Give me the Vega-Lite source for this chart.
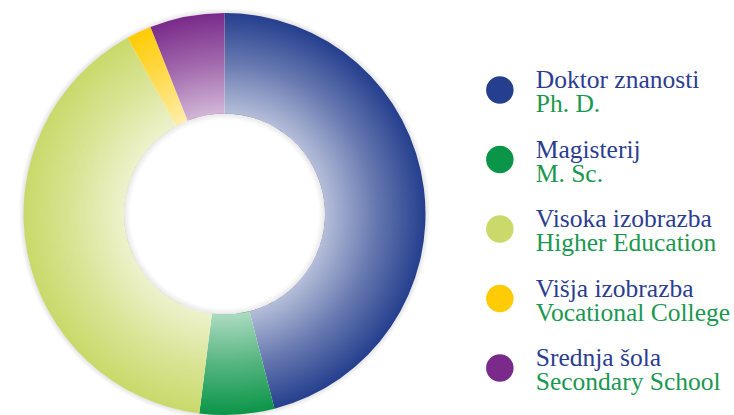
{
  "$schema": "https://vega.github.io/schema/vega-lite/v6.json",
  "padding": {"top": 8, "left": 0, "right": 0, "bottom": 0},
  "background": "white",
  "config": {"view": {"stroke": null}},
  "spacing": 36,
  "datasets": {
    "edu": [
      {"k": 1, "sl": "Doktor znanosti", "en": "Ph. D.", "pct": 46},
      {"k": 2, "sl": "Magisterij", "en": "M. Sc.", "pct": 6},
      {"k": 3, "sl": "Visoka izobrazba", "en": "Higher Education", "pct": 40},
      {"k": 4, "sl": "Višja izobrazba", "en": "Vocational College", "pct": 2},
      {"k": 5, "sl": "Srednja šola", "en": "Secondary School", "pct": 6}
    ],
    "ring": [{"v": 1}]
  },
  "hconcat": [
    {
      "width": 449,
      "height": 402,
      "layer": [
        {
          "data": {"name": "ring"},
          "mark": {
            "type": "arc", "innerRadius": 195, "outerRadius": 206,
            "color": {
              "gradient": "radial",
              "x1": 0.5, "y1": 0.5, "r1": 0.4733,
              "x2": 0.5, "y2": 0.5, "r2": 0.5,
              "stops": [
                {"offset": 0, "color": "rgba(0,0,0,0.1)"},
                {"offset": 0.55, "color": "rgba(0,0,0,0.1)"},
                {"offset": 1, "color": "rgba(0,0,0,0)"}
              ]
            }
          },
          "encoding": {"theta": {"field": "v", "type": "quantitative"}}
        },
        {
          "data": {"name": "edu"},
          "mark": {"type": "arc", "innerRadius": 100.5, "outerRadius": 201},
          "encoding": {
            "theta": {"field": "pct", "type": "quantitative", "stack": true},
            "order": {"field": "k", "type": "ordinal"},
            "color": {
              "field": "k", "type": "ordinal", "legend": null,
              "scale": {"domain": [1, 2, 3, 4, 5], "range": ["#253f8e", "#0b9548", "#cad96a", "#ffcb05", "#7a2a8a"]}
            }
          }
        },
        {
          "data": {"name": "ring"},
          "mark": {
            "type": "arc", "innerRadius": 100.5, "outerRadius": 201,
            "color": {
              "gradient": "radial",
              "x1": 0.5, "y1": 0.5, "r1": 0.25,
              "x2": 0.5, "y2": 0.5, "r2": 0.5,
              "stops": [
                {"offset": 0, "color": "rgba(255,255,255,0.66)"},
                {"offset": 0.5, "color": "rgba(255,255,255,0.3)"},
                {"offset": 1, "color": "rgba(255,255,255,0)"}
              ]
            }
          },
          "encoding": {"theta": {"field": "v", "type": "quantitative"}}
        },
        {
          "data": {"name": "ring"},
          "mark": {
            "type": "arc", "innerRadius": 94, "outerRadius": 100.5,
            "color": {
              "gradient": "radial",
              "x1": 0.5, "y1": 0.5, "r1": 0.4677,
              "x2": 0.5, "y2": 0.5, "r2": 0.5,
              "stops": [
                {"offset": 0, "color": "rgba(0,0,0,0)"},
                {"offset": 1, "color": "rgba(0,0,0,0.09)"}
              ]
            }
          },
          "encoding": {"theta": {"field": "v", "type": "quantitative"}}
        }
      ],
      "resolve": {"scale": {"theta": "independent"}}
    },
    {
      "width": 249,
      "height": 402,
      "data": {"name": "edu"},
      "encoding": {
        "y": {
          "field": "k", "type": "ordinal", "axis": null,
          "scale": {"type": "point", "padding": 0.892, "align": 0.621}
        }
      },
      "layer": [
        {
          "mark": {"type": "circle", "size": 755, "opacity": 1},
          "encoding": {
            "x": {"datum": 15.5, "type": "quantitative", "axis": null, "scale": {"domain": [0, 249]}},
            "color": {
              "field": "k", "type": "ordinal", "legend": null,
              "scale": {"domain": [1, 2, 3, 4, 5], "range": ["#253f8e", "#0b9548", "#cad96a", "#ffcb05", "#7a2a8a"]}
            }
          }
        },
        {
          "mark": {"type": "text", "align": "left", "baseline": "alphabetic", "dy": -2, "font": "'Liberation Serif', 'DejaVu Serif', serif", "fontSize": 25.5, "color": "#2b3d8f"},
          "encoding": {
            "x": {"datum": 53, "type": "quantitative"},
            "text": {"field": "sl"}
          }
        },
        {
          "mark": {"type": "text", "align": "left", "baseline": "alphabetic", "dy": 22, "font": "'Liberation Serif', 'DejaVu Serif', serif", "fontSize": 25.5, "color": "#1a9850"},
          "encoding": {
            "x": {"datum": 53, "type": "quantitative"},
            "text": {"field": "en"}
          }
        }
      ]
    }
  ]
}
